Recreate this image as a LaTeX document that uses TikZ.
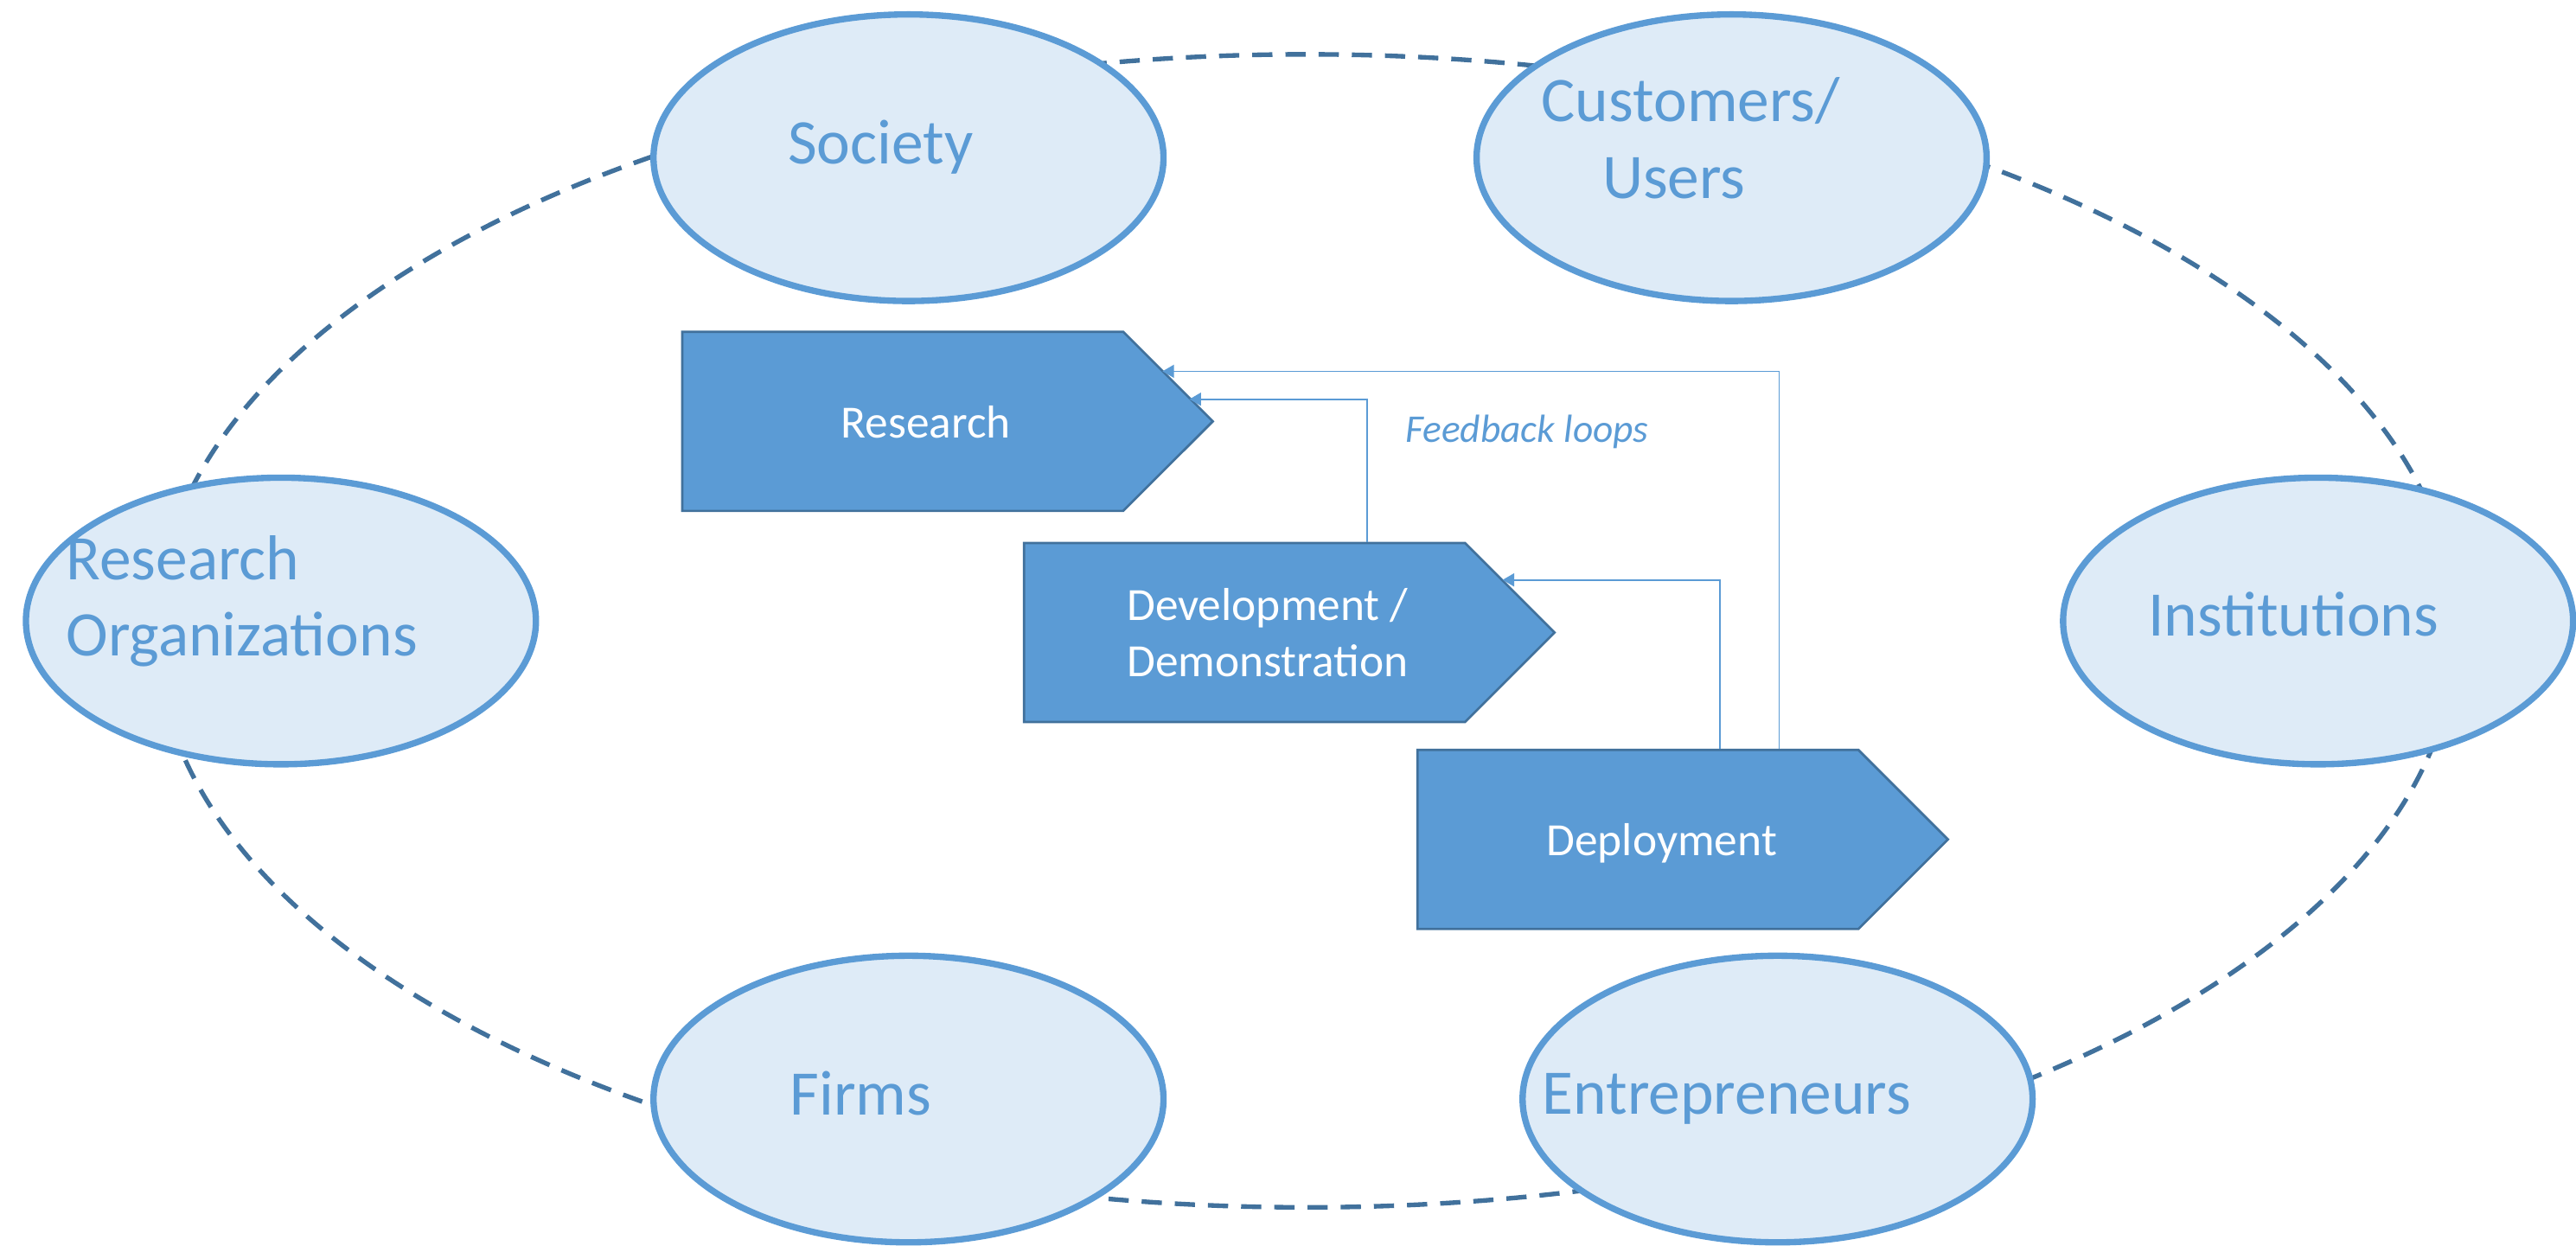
\documentclass[tikz,border=0pt]{standalone}
\usepackage{fontspec}
\setmainfont{Carlito}
\usetikzlibrary{shapes.geometric,shapes.symbols,arrows.meta}
\definecolor{elfill}{HTML}{DEEBF7}
\definecolor{accent}{HTML}{5B9BD5}
\definecolor{dark}{HTML}{41719C}
\begin{document}
\begin{tikzpicture}[x=0.02cm,y=-0.02cm,
 actor/.style={ellipse, draw=accent, fill=elfill, line width=2.2pt, minimum width=6.21cm, minimum height=3.49cm, inner sep=0pt},
 actortext/.style={text=accent, font=\fontsize{22}{26.5}\selectfont, inner sep=0pt},
 stage/.style={signal, signal to=east, signal pointer angle=90, draw=dark, fill=accent, line width=0.8pt, minimum width=6.46cm, minimum height=2.18cm, inner sep=0pt},
 stagetext/.style={text=white, font=\fontsize{16}{19.4}\selectfont, inner sep=0pt, align=center},
 ring/.style={draw=dark, line width=1.6pt, dash pattern=on 7pt off 4.5pt},
 fb/.style={draw=accent, line width=0.5pt, -{Triangle[length=4pt,width=4.5pt]}},
]
\useasboundingbox (0,0) rectangle (1568,758);
\draw[ring] (795,384) ellipse [x radius=14cm, y radius=7.02cm];

\node[actor] (society) at (553,96) {};
\node[actor] (customers) at (1054,96) {};
\node[actor] (resorg) at (171,378) {};
\node[actor] (institutions) at (1411,378) {};
\node[actor] (firms) at (553,669) {};
\node[actor] (entrepreneurs) at (1082,669) {};

\node[actortext, anchor=base] (societyt) at (536,100) {Society};
\node[actortext, align=left, anchor=west] (customerst) at (938,84) {Customers/\\\hspace*{0.74cm}Users};
\node[actortext, align=left, anchor=west] (resorgt) at (40,366) {Research\\Organizations};
\node[actortext, anchor=base] (institutionst) at (1396,387) {Institutions};
\node[actortext, anchor=base] (firmst) at (524,678.5) {Firms};
\node[actortext, anchor=base] (entrepreneurst) at (1051,678) {Entrepreneurs};

\node[stage] (research) at (549.5,256.5) {};
\node[stage] (dev) at (757.5,385) {};
\node[stage] (deploy) at (997,511) {};

\node[stagetext, anchor=base] (researcht) at (563.5,266.7) {Research};
\node[stagetext] (devt) at (771.5,385) {Development /\\Demonstration};
\node[stagetext, anchor=base] (deployt) at (1011.5,521) {Deployment};
\node[text=accent, font=\fontsize{13.6}{16}\selectfont\itshape, anchor=base, inner sep=0pt] (fbt) at (929.5,269) {Feedback loops};

\coordinate (r1) at (707.6,226);
\coordinate (r2) at (724,243);
\coordinate (d1) at (914.6,353);
\draw[fb] ([xshift=1.72cm]deploy.north) |- (r1);
\draw[fb] ([xshift=1.49cm]dev.north) |- (r2);
\draw[fb] ([xshift=1.0cm]deploy.north) |- (d1);
\end{tikzpicture}
\end{document}
